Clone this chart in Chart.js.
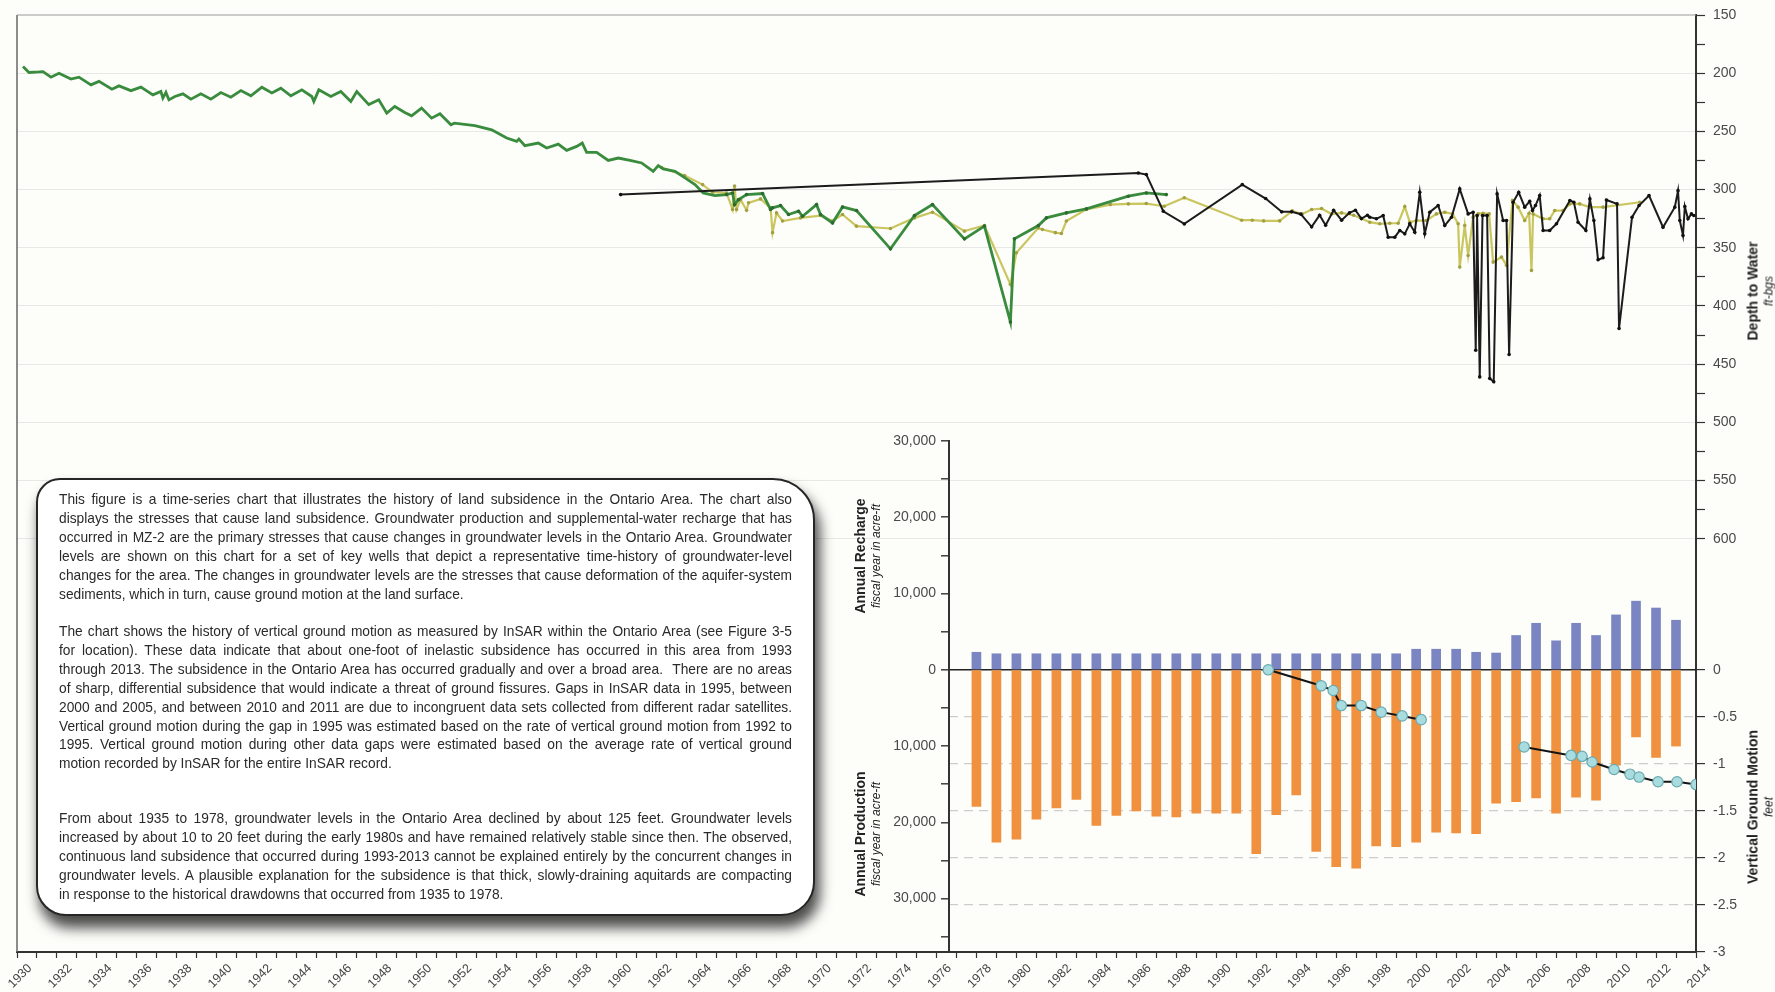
<!DOCTYPE html>
<html lang="en">
<head>
<meta charset="utf-8">
<title>Ontario Area – groundwater levels, recharge, production and vertical ground motion</title>
<script src="https://cdn.jsdelivr.net/npm/chart.js@4.4.1/dist/chart.umd.min.js"></script>
<style>
  html, body { margin: 0; padding: 0; background: #fdfdfa; }
  #stage { position: relative; width: 1775px; height: 992px; overflow: hidden;
           font-family: "Liberation Sans", Arial, Helvetica, sans-serif; }
  #stage canvas { position: absolute; left: 0; top: 0; }
  #depthChart { z-index: 1; }
  .note { position: absolute; z-index: 2; left: 36px; top: 478px; width: 779px; height: 438px;
          box-sizing: border-box; background: #fff; border: 2px solid #262626;
          border-radius: 24px 42px 34px 30px; box-shadow: 4px 11px 13px 1px rgba(0,0,0,0.7); }
  .para { position: absolute; z-index: 3; left: 59px; width: 880px; transform: scaleX(0.83);
          transform-origin: 0 0; font-size: 15px; line-height: 18.9px; color: #2a2a2a; white-space: nowrap; }
  .para div { text-align: justify; text-align-last: justify; }
  .para div.end { text-align-last: left; }
  #flowChart { z-index: 4; }
  .vtitle { position: absolute; z-index: 5; transform: translate(-50%, -50%) rotate(-90deg);
            white-space: nowrap; text-align: center; color: #222; }
  .vtitle b { display: block; font-size: 14px; line-height: 17px; }
  .vtitle i { display: block; font-size: 12px; line-height: 14px; font-weight: normal; }
</style>
</head>
<body>
<div id="stage">
  <canvas id="depthChart" width="1775" height="992"></canvas>

  <div class="note"></div>
  <div class="para" style="top:490px">
    <div>This figure is a time-series chart that illustrates the history of land subsidence in the Ontario Area. The chart also</div>
    <div>displays the stresses that cause land subsidence. Groundwater production and supplemental-water recharge that has</div>
    <div>occurred in MZ-2 are the primary stresses that cause changes in groundwater levels in the Ontario Area. Groundwater</div>
    <div>levels are shown on this chart for a set of key wells that depict a representative time-history of groundwater-level</div>
    <div>changes for the area. The changes in groundwater levels are the stresses that cause deformation of the aquifer-system</div>
    <div class="end">sediments, which in turn, cause ground motion at the land surface.</div>
  </div>
  <div class="para" style="top:622px">
    <div>The chart shows the history of vertical ground motion as measured by InSAR within the Ontario Area (see Figure 3-5</div>
    <div>for location). These data indicate that about one-foot of inelastic subsidence has occurred in this area from 1993</div>
    <div>through 2013. The subsidence in the Ontario Area has occurred gradually and over a broad area.&nbsp; There are no areas</div>
    <div>of sharp, differential subsidence that would indicate a threat of ground fissures. Gaps in InSAR data in 1995, between</div>
    <div>2000 and 2005, and between 2010 and 2011 are due to incongruent data sets collected from different radar satellites.</div>
    <div>Vertical ground motion during the gap in 1995 was estimated based on the rate of vertical ground motion from 1992 to</div>
    <div>1995. Vertical ground motion during other data gaps were estimated based on the average rate of vertical ground</div>
    <div class="end">motion recorded by InSAR for the entire InSAR record.</div>
  </div>
  <div class="para" style="top:809px">
    <div>From about 1935 to 1978, groundwater levels in the Ontario Area declined by about 125 feet. Groundwater levels</div>
    <div>increased by about 10 to 20 feet during the early 1980s and have remained relatively stable since then. The observed,</div>
    <div>continuous land subsidence that occurred during 1993-2013 cannot be explained entirely by the concurrent changes in</div>
    <div>groundwater levels. A plausible explanation for the subsidence is that thick, slowly-draining aquitards are compacting</div>
    <div class="end">in response to the historical drawdowns that occurred from 1935 to 1978.</div>
  </div>

  <canvas id="flowChart" width="1775" height="992"></canvas>

  <div class="vtitle" style="left:1760px; top:291px"><b>Depth to Water</b><i>ft-bgs</i></div>
  <div class="vtitle" style="left:867px; top:556px"><b>Annual Recharge</b><i>fiscal year in acre-ft</i></div>
  <div class="vtitle" style="left:867px; top:834px"><b>Annual Production</b><i>fiscal year in acre-ft</i></div>
  <div class="vtitle" style="left:1760px; top:807px"><b>Vertical Ground Motion</b><i>feet</i></div>
</div>

<script>
// ---------------------------------------------------------------------------
// Data
// ---------------------------------------------------------------------------

// Depth to water (ft below ground surface) for three key wells: [year, depth]
const greenWell = [
  [1930.3,194.3],[1930.6,199.4],[1931.1,198.9],[1931.3,198.6],[1931.7,203.4],[1932.1,200.0],
  [1932.7,205.0],[1933.1,203.4],[1933.7,210.0],[1934.1,207.0],[1934.75,213.7],[1935.1,210.9],
  [1935.7,215.0],[1936.2,212.0],[1936.8,218.6],[1937.2,215.7],[1937.3,221.4],[1937.45,216.5],
  [1937.6,222.9],[1937.9,220.0],[1938.3,217.7],[1938.7,222.3],[1939.2,217.7],[1939.7,222.3],
  [1940.2,216.6],[1940.7,220.6],[1941.2,214.9],[1941.7,219.4],[1942.25,212.0],[1942.75,217.0],
  [1943.2,212.9],[1943.7,219.4],[1944.25,214.3],[1944.75,220.0],[1944.85,224.3],[1945.1,214.3],
  [1945.7,220.0],[1946.2,215.7],[1946.7,224.3],[1947.0,215.7],[1947.6,227.0],[1948.1,222.9],
  [1948.5,234.3],[1948.9,228.6],[1949.4,233.7],[1949.74,236.6],[1950.24,230.0],[1950.74,238.6],
  [1951.16,234.9],[1951.71,244.3],[1951.88,242.9],[1952.91,245.1],[1953.75,248.6],[1954.5,255.7],
  [1955.0,258.6],[1955.11,256.6],[1955.41,262.3],[1956.08,260.0],[1956.5,264.3],[1957.08,260.9],
  [1957.5,266.3],[1958.0,262.9],[1958.28,260.0],[1958.5,268.0],[1959.0,268.0],[1959.58,274.9],
  [1960.08,272.9],[1960.67,274.9],[1961.25,277.1],[1961.83,284.3],[1962.08,279.4],[1962.33,282.3],
  [1962.92,284.3],[1963.42,290.0],[1963.92,295.7],[1964.33,302.9],[1964.92,305.1],[1965.5,304.3],
  [1965.8,302.9],[1965.9,312.9],[1966.1,308.6],[1966.5,304.3],[1967.3,303.4],[1967.7,317.0],
  [1967.8,315.7],[1968.2,313.7],[1968.6,321.4],[1969.1,318.6],[1969.3,322.9],[1970.0,312.9],
  [1970.2,321.4],[1970.8,328.6],[1971.3,314.9],[1972.0,318.0],[1973.7,350.9],[1974.9,322.3],
  [1975.8,312.9],[1977.4,342.3],[1978.4,331.4],[1979.7,413.7],[1979.9,342.3],[1981.1,330.9],
  [1981.5,324.3],[1982.5,320.0],[1983.5,316.6],[1985.6,305.7],[1986.5,302.9],[1987.5,304.3]
];

const yellowWell = [
  [1962.25,281.0],[1963.4,288.0],[1964.3,295.7],[1964.8,302.3],[1965.5,302.9],[1965.8,317.0],
  [1965.9,297.0],[1966.0,317.0],[1966.2,308.6],[1966.5,317.7],[1966.6,311.4],[1967.2,308.0],
  [1967.7,315.7],[1967.8,337.0],[1968.0,320.0],[1968.3,327.0],[1969.2,324.3],[1970.2,322.3],
  [1970.8,327.0],[1971.3,321.4],[1972.0,331.4],[1973.7,333.4],[1974.9,324.3],[1975.8,319.4],
  [1977.4,335.7],[1978.4,330.9],[1979.7,381.4],[1980.0,354.3],[1981.1,332.9],[1981.3,334.3],
  [1981.95,337.0],[1982.25,337.7],[1982.5,327.0],[1983.5,317.0],[1984.7,312.9],[1985.6,312.3],
  [1986.5,312.0],[1987.4,314.3],[1988.4,307.0],[1991.27,326.3],[1991.8,326.3],[1992.37,326.9],
  [1993.17,326.9],[1993.8,318.3],[1994.3,321.0],[1994.77,317.1],[1995.27,316.3],[1995.77,321.0],
  [1996.27,320.0],[1996.87,322.0],[1997.26,324.9],[1997.68,328.0],[1998.18,329.4],[1998.68,328.9],
  [1999.1,328.9],[1999.43,314.6],[1999.68,328.0],[2000.01,326.6],[2000.51,326.6],[2001.01,320.9],
  [2001.43,319.4],[2001.82,320.9],[2002.1,329.4],[2002.18,366.6],[2002.43,330.9],[2002.6,356.6],
  [2002.85,323.7],[2003.1,320.9],[2003.35,320.3],[2003.65,320.9],[2003.85,362.3],[2004.27,358.0],
  [2004.52,365.1],[2004.82,309.4],[2005.1,315.1],[2005.43,326.6],[2005.65,320.3],[2005.77,369.4],
  [2005.85,320.9],[2006.35,325.1],[2006.68,325.1],[2006.93,318.0],[2007.35,318.0],[2007.69,312.3],
  [2008.18,312.3],[2008.69,315.1],[2009.35,315.1],[2011.19,310.9]
];

const blackWell = [
  [1960.2,304.3],[1986.1,285.7],[1986.5,287.1],[1987.35,318.6],[1988.4,329.5],[1991.3,295.7],
  [1992.47,307.7],[1993.27,319.1],[1993.77,319.1],[1994.23,321.1],[1994.77,332.0],[1995.17,322.0],
  [1995.47,330.6],[1995.87,317.7],[1996.27,326.3],[1996.66,320.0],[1996.96,317.7],[1997.26,324.9],
  [1997.56,322.0],[1997.68,323.7],[1998.01,325.1],[1998.35,322.3],[1998.6,340.9],[1998.93,340.9],
  [1999.18,335.1],[1999.43,338.0],[1999.68,329.4],[1999.93,336.6],[2000.18,302.3],[2000.43,338.0],
  [2000.68,319.4],[2001.1,313.7],[2001.43,330.9],[2001.77,323.7],[2002.18,299.4],[2002.6,320.9],
  [2002.85,319.4],[2002.98,438.0],[2003.05,322.3],[2003.18,460.9],[2003.32,322.3],[2003.55,322.3],
  [2003.68,462.3],[2003.88,465.1],[2004.05,303.7],[2004.35,326.6],[2004.52,326.6],[2004.65,441.7],
  [2004.85,310.9],[2005.13,302.3],[2005.43,315.1],[2005.68,310.0],[2005.82,318.0],[2005.97,313.7],
  [2006.18,305.1],[2006.35,335.1],[2006.68,335.1],[2007.02,329.4],[2007.69,309.4],[2007.89,310.9],
  [2008.1,328.0],[2008.49,335.1],[2008.69,308.0],[2008.89,326.6],[2009.1,360.3],[2009.35,358.6],
  [2009.52,308.9],[2010.05,312.3],[2010.15,419.4],[2010.8,323.7],[2011.15,313.7],[2011.65,305.1],
  [2012.35,332.3],[2012.94,315.1],[2013.1,300.9],[2013.19,326.6],[2013.35,339.4],[2013.44,314.6],
  [2013.6,325.1],[2013.77,320.9],[2013.89,322.3]
];

// Fiscal-year recharge and production in MZ-2 (acre-ft)
const fiscalYears = [
  1978,1979,1980,1981,1982,1983,1984,1985,1986,1987,1988,1989,1990,1991,1992,1993,1994,1995,
  1996,1997,1998,1999,2000,2001,2002,2003,2004,2005,2006,2007,2008,2009,2010,2011,2012,2013
];
const annualRecharge = [
  2300,2100,2100,2100,2100,2100,2100,2100,2100,2100,2100,2100,2100,2100,2100,2100,2100,2100,
  2100,2100,2100,2100,2700,2700,2700,2300,2200,4500,6100,3800,6100,4500,7200,9000,8100,6500
];
const annualProduction = [
  17900,22600,22200,19600,18100,17000,20400,19100,18500,19200,19300,18800,18800,18800,24100,19000,16400,23800,
  25800,26000,23100,23200,22600,21300,21400,21500,17500,17300,16800,18800,16700,17100,12500,8800,11500,10000
];

// InSAR vertical ground motion (ft), two records separated by a data gap
const motionEarly = [
  [1992.6,0.0],[1995.25,-0.17],[1995.85,-0.22],[1996.25,-0.38],[1997.25,-0.38],[1998.25,-0.45],
  [1999.3,-0.49],[2000.25,-0.53]
];
const motionLate = [
  [2005.4,-0.82],[2007.75,-0.91],[2008.3,-0.92],[2008.8,-0.98],[2009.9,-1.06],[2010.7,-1.11],
  [2011.15,-1.14],[2012.1,-1.19],[2013.05,-1.19],[2014.0,-1.22]
];

// Axis ranges and tick values
const YEAR_MIN = 1930, YEAR_MAX = 2014;
const DEPTH_MIN = 150, DEPTH_MAX = 955;
const depthTicks = [150,175,200,225,250,275,300,325,350,375,400,425,450,475,500,525,550,575,600];
const depthGrid = [200,250,300,350,400,450,500,550,600];
const FLOW_MIN = -37000, FLOW_MAX = 30000;
const flowTicks = [30000,25000,20000,15000,10000,5000,0,-5000,-10000,-15000,-20000,-25000,-30000,-35000];
const motionTicks = [0,-0.5,-1,-1.5,-2,-2.5,-3];
const motionDashed = [-0.5,-1,-1.5,-2,-2.5];
const MOTION_MIN = -3;
const MOTION_MAX = -MOTION_MIN * FLOW_MAX / -FLOW_MIN;   // keeps both zero lines together

// ---------------------------------------------------------------------------
// Layout
// ---------------------------------------------------------------------------
const W = 1775, H = 992;
const PLOT = { left: 17, top: 15, right: 1696, bottom: 952 };
const PANEL = { left: 949, top: 441 };
const RIGHT_AXIS_W = W - PLOT.right;
const BOTTOM_AXIS_H = H - PLOT.bottom;
const FLOW_AXIS_W = 70;
const TEXT_WIDTH = 733;   // justified width of the note paragraphs
const panelStartYear = YEAR_MIN + (YEAR_MAX - YEAR_MIN) * (PANEL.left - PLOT.left) / (PLOT.right - PLOT.left);

const yearTicks = [];
for (let y = YEAR_MIN; y <= YEAR_MAX; y++) yearTicks.push(y);

// Condense the note text so its widest line just fills the justified width
(function fitNote() {
  const meter = document.createElement('canvas').getContext('2d');
  meter.font = '15px "Liberation Sans", Arial, sans-serif';
  const paras = document.querySelectorAll('.para');
  let widest = 0;
  paras.forEach(p => p.querySelectorAll('div').forEach(d => {
    widest = Math.max(widest, meter.measureText(d.textContent).width);
  }));
  const natural = Math.ceil(widest * 1.01);
  paras.forEach(p => {
    p.style.width = natural + 'px';
    p.style.transform = 'scaleX(' + (TEXT_WIDTH / natural) + ')';
  });
})();

Chart.defaults.font.family = '"Liberation Sans", Arial, Helvetica, sans-serif';
Chart.defaults.color = '#4a4a4a';

const toPoints = arr => arr.map(([x, y]) => ({ x, y }));
const setTicks = values => axis => { axis.ticks = values.map(v => ({ value: v })); };
const CLEAR = 'rgba(0,0,0,0)';

// Left and top edges of the depth plot
const framePlugin = {
  id: 'frame',
  beforeDatasetsDraw(chart) {
    const { ctx, chartArea: a } = chart;
    ctx.save();
    ctx.lineWidth = 1.5;
    ctx.strokeStyle = '#666';
    ctx.beginPath();
    ctx.moveTo(a.left, a.bottom);
    ctx.lineTo(a.left, a.top);
    ctx.stroke();
    ctx.strokeStyle = '#9a9a9a';
    ctx.lineWidth = 1.2;
    ctx.beginPath();
    ctx.moveTo(a.left, a.top);
    ctx.lineTo(a.right, a.top);
    ctx.stroke();
    ctx.restore();
  }
};

// ---------------------------------------------------------------------------
// Depth-to-water chart (full frame, time axis and right depth axis)
// ---------------------------------------------------------------------------
new Chart(document.getElementById('depthChart'), {
  type: 'line',
  data: {
    datasets: [
      {
        label: 'Well (black)', data: toPoints(blackWell),
        borderColor: '#1c1c1c', borderWidth: 2, tension: 0,
        pointRadius: 1.8, pointBackgroundColor: '#111', pointBorderWidth: 0
      },
      {
        label: 'Well (green)', data: toPoints(greenWell),
        borderColor: '#398b3d', borderWidth: 2.8, tension: 0,
        pointRadius: ctx => (ctx.raw && ctx.raw.x > 1965.4 ? 1.8 : 0),
        pointBackgroundColor: '#2d6a2f', pointBorderWidth: 0
      },
      {
        label: 'Well (yellow)', data: toPoints(yellowWell),
        borderColor: '#cac65f', borderWidth: 2.2, tension: 0,
        pointRadius: 1.8, pointBackgroundColor: '#a3a142', pointBorderWidth: 0
      }
    ]
  },
  options: {
    responsive: false,
    animation: false,
    events: [],
    layout: { padding: { left: PLOT.left, top: PLOT.top, right: 0, bottom: 0 } },
    plugins: { legend: { display: false }, tooltip: { enabled: false } },
    scales: {
      x: {
        type: 'linear', position: 'bottom', min: YEAR_MIN, max: YEAR_MAX,
        afterBuildTicks: setTicks(yearTicks),
        afterFit(s) { s.height = BOTTOM_AXIS_H; s.paddingLeft = 0; s.paddingRight = 0; },
        ticks: {
          autoSkip: false, minRotation: 45, maxRotation: 45, labelOffset: 13, padding: 3,
          color: '#444', font: { size: 12.5 },
          callback: v => (v % 2 === 0 ? String(v) : '')
        },
        grid: { drawOnChartArea: false, drawTicks: true, tickLength: 6, tickColor: '#333', tickWidth: 1.2 },
        border: { color: '#333', width: 2 }
      },
      y: {
        type: 'linear', position: 'right', reverse: true, min: DEPTH_MIN, max: DEPTH_MAX,
        afterBuildTicks: setTicks(depthTicks),
        afterFit(s) { s.width = RIGHT_AXIS_W; s.paddingTop = 0; s.paddingBottom = 0; },
        ticks: {
          autoSkip: false, padding: 8, color: '#4a4a4a', font: { size: 14 },
          callback: v => (v % 50 === 0 ? String(v) : '')
        },
        grid: {
          drawTicks: true, tickLength: 9, tickWidth: 1.2,
          color: ctx => (ctx.tick && depthGrid.includes(ctx.tick.value) ? '#e8e8e6' : CLEAR),
          tickColor: '#333'
        },
        border: { color: '#333', width: 2 }
      }
    }
  },
  plugins: [framePlugin]
});

// ---------------------------------------------------------------------------
// Recharge / production bars and InSAR ground motion (lower-right panel)
// ---------------------------------------------------------------------------
const motionStyle = {
  type: 'line', yAxisID: 'yMotion', borderColor: '#141414', borderWidth: 2, tension: 0,
  pointRadius: 5.2, pointBackgroundColor: '#a9dcdf', pointBorderColor: '#6aaab0', pointBorderWidth: 1.2
};

new Chart(document.getElementById('flowChart'), {
  type: 'bar',
  data: {
    datasets: [
      Object.assign({ label: 'Vertical Ground Motion', data: toPoints(motionEarly) }, motionStyle),
      Object.assign({ label: 'Vertical Ground Motion (after gap)', data: toPoints(motionLate) }, motionStyle),
      {
        type: 'bar', label: 'Annual Recharge', yAxisID: 'yFlow', grouped: false, barThickness: 9,
        data: fiscalYears.map((yr, i) => ({ x: yr, y: annualRecharge[i] })),
        backgroundColor: '#7a85c2'
      },
      {
        type: 'bar', label: 'Annual Production', yAxisID: 'yFlow', grouped: false, barThickness: 9,
        data: fiscalYears.map((yr, i) => ({ x: yr, y: -annualProduction[i] })),
        backgroundColor: '#f0913f'
      }
    ]
  },
  options: {
    responsive: false,
    animation: false,
    events: [],
    layout: { padding: { left: PANEL.left - FLOW_AXIS_W, top: PANEL.top, right: 0, bottom: BOTTOM_AXIS_H } },
    plugins: { legend: { display: false }, tooltip: { enabled: false } },
    scales: {
      x: { type: 'linear', display: false, offset: false, min: panelStartYear, max: YEAR_MAX },
      yFlow: {
        type: 'linear', position: 'left', min: FLOW_MIN, max: FLOW_MAX,
        afterBuildTicks: setTicks(flowTicks),
        afterFit(s) { s.width = FLOW_AXIS_W; s.paddingTop = 0; s.paddingBottom = 0; },
        ticks: {
          autoSkip: false, padding: 5, color: '#4a4a4a', font: { size: 14 },
          callback: v => (v % 10000 === 0 ? Math.abs(v).toLocaleString('en-US') : '')
        },
        grid: {
          drawTicks: true, tickLength: 8, tickWidth: 1.4, lineWidth: 1.6,
          color: ctx => (ctx.tick && ctx.tick.value === 0 ? '#222' : CLEAR),
          tickColor: '#333'
        },
        border: { color: '#333', width: 2 }
      },
      yMotion: {
        type: 'linear', position: 'right', min: MOTION_MIN, max: MOTION_MAX,
        afterBuildTicks: setTicks(motionTicks),
        afterFit(s) { s.width = RIGHT_AXIS_W; s.paddingTop = 0; s.paddingBottom = 0; },
        ticks: { autoSkip: false, padding: 8, color: '#4a4a4a', font: { size: 14 }, callback: v => String(v) },
        grid: {
          drawTicks: true, tickLength: 9, tickWidth: 1.2, lineWidth: 1.2,
          color: ctx => (ctx.tick && motionDashed.includes(ctx.tick.value) ? '#cdcdcd' : CLEAR),
          tickColor: '#333'
        },
        border: { display: false, dash: [9, 6] }
      }
    }
  }
});
</script>
</body>
</html>
